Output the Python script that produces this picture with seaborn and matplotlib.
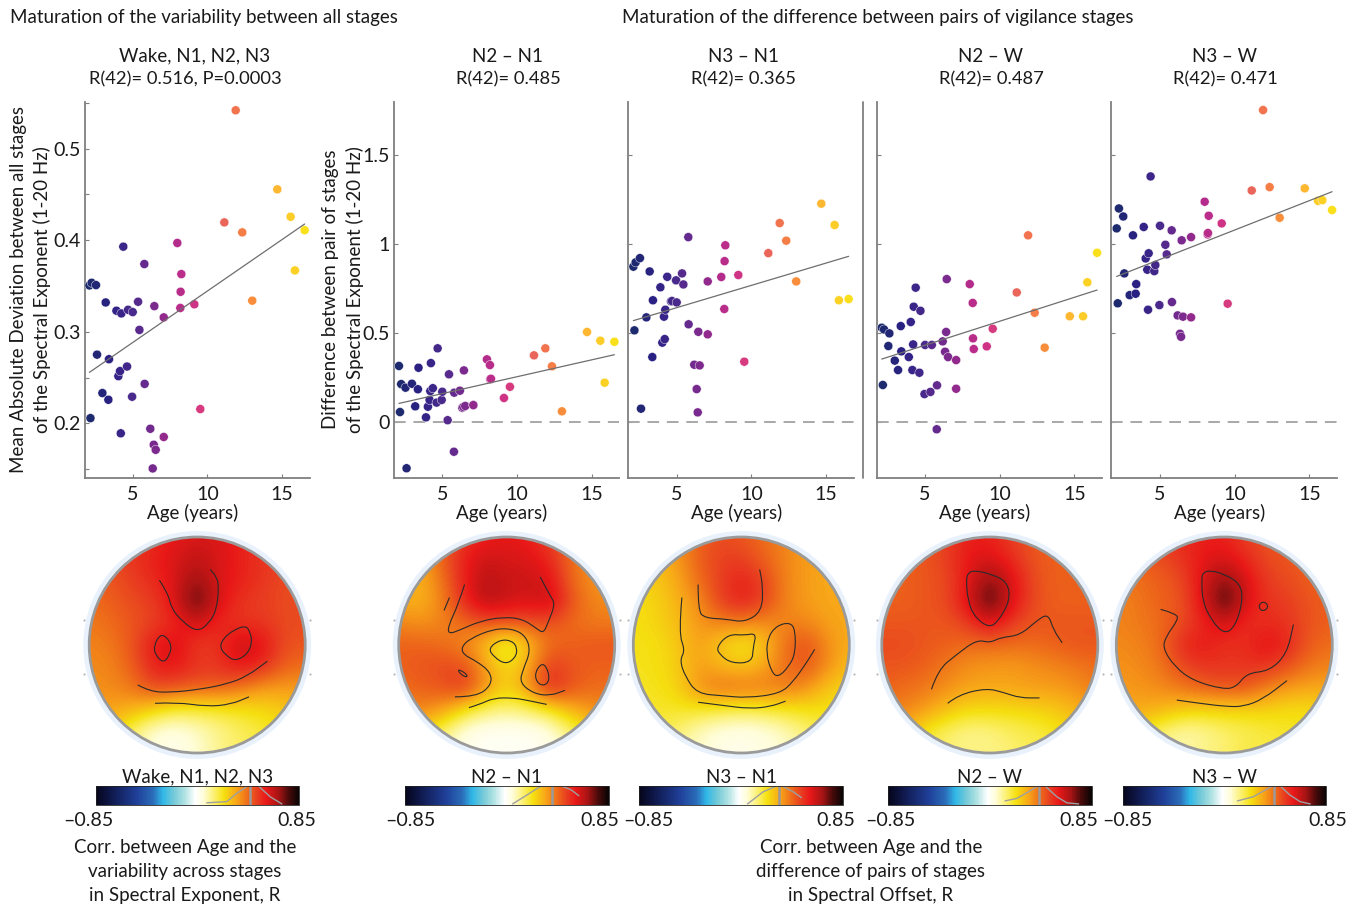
import numpy as np
import pandas as pd
import matplotlib
matplotlib.use('Agg')
import matplotlib.pyplot as plt
import seaborn as sns
from matplotlib.cm import ScalarMappable
from matplotlib.colors import LinearSegmentedColormap, Normalize
from matplotlib.patches import Circle, PathPatch
from matplotlib.path import Path

# ---- scatter data, same 44 subjects in every panel
age = [2.10, 2.17, 2.25, 2.54, 2.61, 2.97, 3.19, 3.37, 3.41, 3.91, 4.04, 4.15, 4.20, 4.24, 4.37,
       4.62, 4.69, 4.96, 5.00, 5.36, 5.45, 5.78, 5.80, 6.18, 6.34, 6.41, 6.45, 6.54, 7.08, 7.08,
       7.99, 8.19, 8.21, 8.26, 9.13, 9.53, 11.14, 11.90, 12.34, 13.01, 14.69, 15.58, 15.87, 16.52]
mad_all = [.3506, .2056, .3535, .351, .275, .233, .332, .2257, .27, .323, .2515, .257, .189, .32, .393,
           .262, .324, .229, .3215, .3328, .302, .374, .243, .194, .1506, .1765, .328, .171, .3157, .185,
           .397, .326, .3437, .363, .33, .2155, .4195, .542, .4086, .334, .4556, .4257, .367, .411]
n2_n1 = [.315, .056, .213, .193, -.26, .215, .088, .184, .305, .026, .086, .124, .174, .331, .19,
         .109, .414, .124, .17, .01, .268, -.167, .165, .176, .08, .085, .29, .09, .095, .095,
         .352, .32, .24, .243, .135, .198, .3745, .414, .313, .06, .506, .457, .221, .451]
n3_n1 = [.873, .515, .897, .921, .075, .588, .846, .365, .684, .757, .446, .592, .466, .631, .816,
         .678, .68, .796, .672, .835, .773, 1.039, .549, .322, .185, .054, .507, .318, .79, .4925,
         .815, .635, .904, .993, .826, .339, .949, 1.118, 1.019, .79, 1.227, 1.107, .684, .691]
n2_w = [.53, .208, .52, .427, .498, .345, .292, .539, .397, .365, .562, .292, .436, .648, .755,
        .277, .625, .157, .433, .169, .433, -.041, .206, .453, .395, .506, .803, .365, .348, .187,
        .775, .669, .47, .41, .425, .524, .728, 1.049, .614, .418, .594, .594, .785, .951]
n3_w = [1.088, .667, 1.2, 1.155, .835, .713, 1.049, .721, .775, 1.096, .919, .856, .631, .948, 1.38,
        .848, .882, .657, 1.103, .996, .942, 1.077, .674, .599, .496, .479, 1.021, .592, 1.039, .588,
        1.238, 1.054, 1.062, 1.159, 1.116, .665, 1.301, 1.753, 1.32, 1.148, 1.313, 1.243, 1.247, 1.191]

stage_names = ['Wake, N1, N2, N3', 'N2 – N1', 'N3 – N1', 'N2 – W', 'N3 – W']
r_labels = ['R(42)= 0.516, P=0.0003', 'R(42)= 0.485', 'R(42)= 0.365', 'R(42)= 0.487', 'R(42)= 0.471']

# ---- topographies, R on an 11x11 grid, rows y=1..-1, columns x=-1..1
topo_all = [
    [.48, .48, .50, .54, .58, .60, .60, .56, .52, .50, .48],
    [.46, .48, .52, .56, .60, .64, .60, .56, .52, .50, .48],
    [.44, .46, .50, .54, .60, .70, .60, .56, .52, .48, .48],
    [.42, .44, .48, .50, .60, .78, .60, .52, .50, .48, .48],
    [.40, .42, .46, .50, .54, .62, .54, .52, .52, .48, .48],
    [.38, .40, .46, .58, .62, .50, .52, .64, .60, .48, .46],
    [.37, .38, .44, .56, .58, .52, .52, .58, .54, .44, .42],
    [.36, .37, .40, .48, .46, .44, .44, .40, .34, .34, .34],
    [.34, .33, .30, .24, .18, .18, .19, .21, .23, .26, .28],
    [.30, .26, .14, .04, .02, .06, .11, .15, .18, .22, .24],
    [.26, .20, .10, .04, .02, .05, .12, .15, .18, .20, .22]]
topo_n2n1 = [
    [.30, .34, .42, .52, .56, .58, .56, .50, .42, .36, .32],
    [.30, .32, .44, .56, .62, .60, .60, .54, .42, .36, .32],
    [.30, .30, .40, .56, .66, .62, .62, .60, .42, .36, .34],
    [.32, .30, .38, .54, .66, .62, .60, .64, .46, .38, .36],
    [.38, .36, .38, .42, .46, .46, .46, .46, .42, .40, .40],
    [.44, .44, .42, .38, .28, .12, .28, .42, .44, .46, .46],
    [.44, .46, .48, .48, .34, .22, .32, .52, .46, .44, .44],
    [.42, .44, .46, .52, .36, .24, .36, .56, .46, .42, .42],
    [.38, .38, .34, .22, .14, .12, .14, .20, .30, .36, .38],
    [.30, .24, .14, .03, .00, .00, .00, .03, .14, .24, .30],
    [.24, .16, .08, .02, .00, .00, .00, .02, .08, .16, .24]]
topo_n3n1 = [
    [.28, .30, .36, .44, .48, .46, .42, .38, .34, .32, .30],
    [.26, .28, .34, .44, .50, .50, .44, .38, .34, .32, .30],
    [.24, .26, .32, .42, .50, .56, .50, .38, .34, .32, .32],
    [.22, .24, .30, .36, .50, .56, .50, .38, .34, .32, .32],
    [.22, .24, .28, .35, .38, .38, .36, .38, .38, .33, .32],
    [.21, .22, .26, .34, .26, .19, .26, .42, .48, .36, .31],
    [.21, .22, .25, .34, .30, .27, .32, .42, .46, .36, .28],
    [.20, .21, .24, .36, .42, .42, .40, .40, .36, .26, .24],
    [.18, .20, .20, .20, .18, .16, .18, .20, .21, .22, .20],
    [.16, .18, .14, .07, .03, .02, .03, .07, .14, .18, .18],
    [.12, .12, .10, .06, .03, .02, .04, .06, .10, .12, .14]]
topo_n2w = [
    [.46, .46, .46, .50, .56, .56, .50, .46, .44, .44, .44],
    [.44, .44, .46, .50, .58, .60, .54, .46, .44, .44, .44],
    [.44, .44, .46, .48, .58, .72, .60, .48, .44, .44, .44],
    [.44, .44, .46, .48, .60, .80, .60, .48, .44, .44, .44],
    [.46, .46, .46, .46, .50, .60, .50, .46, .46, .46, .46],
    [.48, .48, .46, .44, .42, .42, .42, .42, .44, .46, .46],
    [.46, .46, .44, .40, .36, .35, .34, .36, .38, .40, .42],
    [.44, .42, .40, .36, .33, .32, .33, .34, .34, .36, .40],
    [.40, .38, .34, .28, .23, .23, .23, .24, .26, .30, .34],
    [.34, .30, .20, .14, .11, .12, .15, .17, .20, .24, .28],
    [.28, .24, .18, .14, .12, .12, .14, .16, .18, .22, .24]]
topo_n3w = [
    [.44, .46, .50, .54, .56, .56, .50, .46, .44, .44, .44],
    [.42, .44, .48, .52, .58, .60, .54, .48, .46, .44, .44],
    [.40, .42, .44, .48, .60, .72, .60, .50, .48, .44, .44],
    [.38, .40, .44, .46, .60, .80, .60, .52, .50, .46, .44],
    [.38, .40, .42, .48, .54, .62, .52, .54, .52, .46, .44],
    [.37, .38, .42, .54, .58, .52, .54, .60, .54, .44, .42],
    [.36, .37, .40, .48, .52, .52, .52, .52, .46, .40, .38],
    [.34, .35, .37, .40, .44, .46, .46, .38, .34, .32, .32],
    [.33, .32, .30, .26, .24, .24, .24, .24, .22, .22, .26],
    [.28, .22, .14, .08, .10, .14, .16, .18, .20, .22, .22],
    [.20, .14, .10, .10, .12, .14, .18, .18, .18, .20, .20]]

# ---- significance contours, head coordinates
cont_all = [
    [(-.35, .60), (-.27, .48), (-.24, .34), (-.14, .22), (0, .12), (.11, .20), (.18, .33), (.20, .54), (.18, .63), (.12, .70)],
    [(-.34, .10), (-.40, 0), (-.39, -.09), (-.31, -.17), (-.25, -.08), (-.24, 0), (-.28, .07), (-.34, .10)],
    [(.45, .18), (.34, .14), (.24, .06), (.21, -.02), (.26, -.09), (.35, -.15), (.46, -.09), (.51, .02), (.49, .12), (.45, .18)],
    [(-.55, -.37), (-.44, -.43), (-.25, -.44), (.03, -.41), (.28, -.36), (.46, -.29), (.65, -.15)],
    [(-.39, -.54), (-.19, -.53), (.09, -.57), (.31, -.55), (.48, -.48)]]
cont_n2n1 = [
    [(-.39, .56), (-.45, .37), (-.54, .18), (-.54, .10), (-.43, .14), (-.25, .22), (-.03, .26), (.15, .24), (.28, .15), (.34, .11), (.38, .20), (.45, .38), (.40, .46), (.31, .63)],
    [(-.53, .44), (-.58, .32)],
    [(-.48, -.48), (-.28, -.48), (-.14, -.37), (-.15, -.25), (-.28, -.15), (-.40, -.09), (-.42, -.02), (-.34, .06), (-.12, .15), (.06, .15), (.18, .08), (.22, -.06), (.15, -.23), (.12, -.35), (.25, -.45), (.40, -.47), (.54, -.42)],
    [(-.06, .05), (-.17, -.03), (-.12, -.11), (-.01, -.18), (.08, -.12), (.10, -.03), (.05, .04), (-.06, .05)],
    [(-.46, -.22), (-.42, -.28), (-.36, -.30), (-.38, -.26), (-.46, -.22)],
    [(.32, -.17), (.26, -.26), (.28, -.35), (.35, -.38), (.40, -.32), (.37, -.20), (.32, -.17)],
    [(-.35, -.58), (-.25, -.55), (-.12, -.49), (.06, -.49), (.18, -.51), (.37, -.55)]]
cont_n3n1 = [
    [(-.40, .56), (-.40, .32), (-.34, .25), (-.14, .24), (.03, .21), (.19, .31), (.20, .54), (.17, .70)],
    [(-.55, .44), (-.58, .11), (-.52, -.05), (-.57, -.14), (-.52, -.29), (-.41, -.45), (-.17, -.47), (.05, -.49), (.36, -.45), (.48, -.34), (.60, -.17), (.68, -.04)],
    [(-.12, .10), (-.23, -.02), (-.20, -.09), (-.09, -.17), (.10, -.16), (.11, -.02), (.14, .11), (.03, .09), (-.12, .10)],
    [(.33, .18), (.25, .08), (.23, -.08), (.28, -.25), (.34, -.30), (.44, -.20), (.50, -.08), (.50, .14), (.45, .21), (.33, .18)],
    [(-.40, -.53), (-.17, -.56), (.08, -.59), (.27, -.57), (.41, -.52)]]
cont_n2w = [
    [(-.20, .67), (-.22, .60), (-.20, .40), (-.14, .26), (-.01, .16), (.08, .22), (.19, .42), (.16, .59), (0, .66), (-.14, .69), (-.20, .67)],
    [(-.54, -.41), (-.48, -.23), (-.31, -.09), (-.12, .05), (0, .02), (.10, .07), (.28, .09), (.44, .23), (.54, .29), (.59, .14), (.67, .02)],
    [(-.39, -.54), (-.29, -.46), (-.03, -.40), (.13, -.44), (.28, -.49), (.46, -.49)]]
cont_n3w = [
    [(-.20, .67), (-.21, .60), (-.20, .40), (-.12, .23), (0, .10), (.10, .17), (.17, .40), (.15, .57), (-.01, .66), (-.13, .69), (-.20, .67)],
    [(.33, .39), (.32, .34), (.36, .31), (.41, .35), (.38, .40), (.33, .39)],
    [(-.59, .33), (-.44, .29), (-.43, .23), (-.54, .08), (-.57, -.03), (-.46, -.20), (-.29, -.33), (-.01, -.41), (.11, -.39), (.21, -.26), (.42, -.24), (.58, -.08), (.64, .19)],
    [(-.44, -.51), (-.23, -.54), (.02, -.57), (.18, -.57), (.36, -.50), (.58, -.33)]]

# ---- grey curves and threshold on each colour bar (R, height in bar)
bar_thresh = [.44, .382, .316, .41, .413]
bar_left = [
    [(.078, .10), (.245, .16), (.329, .60), (.412, .95)],
    [(.049, .04), (.166, .50), (.277, .95), (.36, .98)],
    [(.054, .04), (.185, .68), (.296, .98)],
    [(.128, .20), (.226, .33), (.324, .68), (.399, .98)],
    [(.109, .20), (.242, .42), (.34, .77), (.401, .98)]]
bar_right = [
    [(.51, .98), (.607, .42), (.705, .04)],
    [(.458, .98), (.541, .77), (.602, .47)],
    [(.352, .95), (.435, .68), (.505, .37)],
    [(.463, .98), (.56, .42), (.644, .10), (.742, .04)],
    [(.471, .95), (.549, .50), (.632, .16), (.716, .04)]]

W, H = 1359, 906
GREY = '#7f7f7f'
FS = 13.5

sns.set_style('white')
plt.rcParams['font.family'] = ['Lato', 'DejaVu Sans']
plt.rcParams['text.color'] = '#1a1a1a'
plt.rcParams['xtick.color'] = '#1a1a1a'
plt.rcParams['ytick.color'] = '#1a1a1a'
plt.rcParams['axes.labelcolor'] = '#1a1a1a'

age_cmap = LinearSegmentedColormap.from_list('age', ['#1d2a6d', '#2b2085', '#4a2a8c', '#7a2a8e', '#b02a8c', '#d43584',
                                                     '#e85f60', '#f47a4a', '#fb9e30', '#fec030', '#f9e01a'])
topo_cmap = LinearSegmentedColormap.from_list('topo', [
    (0, '#05051a'), (.08, '#101a50'), (.20, '#1f3f98'), (.28, '#2a6cb8'), (.33, '#30b8e8'), (.38, '#70c8d8'),
    (.43, '#a8dfe0'), (.49, '#ffffff'), (.53, '#fffdd8'), (.59, '#fbee60'), (.63, '#f5e010'), (.69, '#f8a818'),
    (.75, '#ee6a1a'), (.80, '#e83a20'), (.84, '#e81818'), (.90, '#a81414'), (.95, '#4a0a0a'), (1, '#0a0404')])
topo_norm = Normalize(-.85, .85)


def px_axes(fig, x0, y0, x1, y1):
    return fig.add_axes([x0 / W, 1 - y1 / H, (x1 - x0) / W, (y1 - y0) / H])


def draw_scatter(fig, box, values, ylim, yticks, ylabels, name, r_text, name_x, r_x, ylabel=None, ylabel_x=None, zero=True):
    ax = px_axes(fig, box[0], 101.7, box[1], 477.7)
    df = pd.DataFrame({'age': age, 'y': values})
    if zero:
        ax.axhline(0, color='#a8a8a8', lw=1.4, dashes=(6, 4), zorder=1)
    sns.scatterplot(data=df, x='age', y='y', hue='age', palette=age_cmap, hue_norm=(2.1, 16.52), s=42,
                    edgecolor='white', linewidth=.3, legend=False, ax=ax, zorder=3)
    sns.regplot(data=df, x='age', y='y', scatter=False, ci=None, color='#6e6e6e',
                line_kws={'lw': .9, 'zorder': 4}, ax=ax)
    ax.set_xlim(box[2], box[3])
    ax.set_ylim(*ylim)
    ax.set_xticks([5, 10, 15])
    ax.set_yticks(yticks)
    ax.set_yticklabels(ylabels)
    ax.tick_params(direction='in', length=3, width=.8, color=GREY, labelsize=FS + .6, bottom=True, left=True)
    ax.tick_params(axis='x', pad=6)
    ax.tick_params(axis='y', pad=3)
    sns.despine(ax=ax)
    for s in ['left', 'bottom']:
        ax.spines[s].set_color(GREY)
        ax.spines[s].set_linewidth(1.3)
    ax.set_xlabel('Age (years)', fontsize=FS, va='center')
    ax.xaxis.set_label_coords(.478, -.094)
    ax.set_ylabel(ylabel if ylabel else '', fontsize=FS, va='center', linespacing=1.45)
    if ylabel_x is not None:
        ax.yaxis.set_label_coords((ylabel_x - box[0]) / (box[1] - box[0]), .5)
    # the two title lines are not centred on one another in the figure
    fig.text(name_x / W, 1 - 56 / H, name, fontsize=FS, ha='center', va='center')
    fig.text(r_x / W, 1 - 79 / H, r_text, fontsize=FS - .3, ha='center', va='center')
    return ax


def smooth_path(pts):
    # quadratic path through the midpoints so the contour does not look angular
    pts = np.asarray(pts, dtype=float)
    closed = len(pts) > 3 and np.allclose(pts[0], pts[-1])
    if closed:
        pts = pts[:-1]
        mids = (pts + np.roll(pts, -1, axis=0)) / 2
        verts = [mids[-1]]
        codes = [Path.MOVETO]
        for p, m in zip(pts, mids):
            verts += [p, m]
            codes += [Path.CURVE3, Path.CURVE3]
        return Path(verts, codes)
    verts = [pts[0]]
    codes = [Path.MOVETO]
    for i in range(1, len(pts) - 1):
        verts += [pts[i], (pts[i] + pts[i + 1]) / 2]
        codes += [Path.CURVE3, Path.CURVE3]
    verts.append(pts[-1])
    codes.append(Path.LINETO)
    return Path(verts, codes)


def draw_topo(fig, cx, grid, contours):
    r = 108.0
    ax = px_axes(fig, cx - 1.1 * r, 645 - 1.1 * r, cx + 1.1 * r, 645 + 1.1 * r)
    ax.axis('off')
    ax.add_patch(Circle((0, 0), 1.055, fc='#e9f2fc', ec='none', zorder=0))
    im = ax.imshow(grid, cmap=topo_cmap, norm=topo_norm, extent=(-1.1, 1.1, -1.1, 1.1), interpolation='bicubic',
                   zorder=1)
    ax.set_xlim(-1.1, 1.1)
    ax.set_ylim(-1.1, 1.1)
    im.set_clip_path(Circle((0, 0), 1, transform=ax.transData))
    ax.add_patch(Circle((0, 0), 1, fc='none', ec='#9a9a9a', lw=2, zorder=3))
    for c in contours:
        ax.add_patch(PathPatch(smooth_path(c), fc='none', ec='#2a2a2a', lw=.8, zorder=2))
    ax.plot([-1.045, -1.045, 1.045, 1.045], [.23, -.27, .23, -.27], ls='none', marker='.', ms=1, color='#aaaaaa')


def draw_bar(fig, x0, name, thresh, left, right, lab_l, lab_r):
    cax = px_axes(fig, x0, 785.7, x0 + 203.5, 804.7)
    sm = ScalarMappable(norm=topo_norm, cmap=topo_cmap)
    cb = fig.colorbar(sm, cax=cax, orientation='horizontal')
    cb.set_ticks([])
    cb.outline.set_linewidth(.6)
    cb.outline.set_edgecolor('#222222')
    cax.axvline(thresh, color='#9a9a9a', lw=1.8)
    for c in (left, right):
        xs, ys = zip(*c)
        cax.plot(xs, ys, color='#a0a0a0', lw=1.0)
    cax.set_title(name, fontsize=FS, pad=2)
    fig.text(lab_l / W, 1 - 820 / H, '–0.85', fontsize=FS + .6, ha='center', va='center')
    fig.text(lab_r / W, 1 - 820 / H, '0.85', fontsize=FS + .6, ha='center', va='center')


fig = plt.figure(figsize=(W / 100, H / 100), dpi=100)

y_half = [0, .5, 1, 1.5]
y_half_lab = ['0', '0.5', '1', '1.5']
yl_diff = (-.313, 1.8)
ax1 = draw_scatter(fig, (84.5, 309.7, 1.77, 16.86), mad_all, (.1405, .5514),
                   [.15, .2, .25, .3, .35, .4, .45, .5, .55], ['', '0.2', '', '0.3', '', '0.4', '', '0.5', ''],
                   stage_names[0], r_labels[0], 194.5, 185,
                   'Mean Absolute Deviation between all stages\nof the Spectral Exponent (1-20 Hz)', 30.5, zero=False)
ax2 = draw_scatter(fig, (393.7, 619, 1.75, 16.83), n2_n1, yl_diff, y_half, y_half_lab,
                   stage_names[1], r_labels[1], 508, 508,
                   'Difference between pair of stages\nof the Spectral Exponent (1-20 Hz)', 343)
ax3 = draw_scatter(fig, (628.3, 854, 1.76, 16.88), n3_n1, yl_diff, y_half, ['', '', '', ''],
                   stage_names[2], r_labels[2], 743, 743)
ax3.axvline(17.48, color=GREY, lw=1.3, clip_on=False)
ax4 = draw_scatter(fig, (877, 1102, 1.78, 16.85), n2_w, yl_diff, y_half, ['', '', '', ''],
                   stage_names[3], r_labels[3], 991, 991)
ax5 = draw_scatter(fig, (1111.3, 1337, 1.74, 16.85), n3_w, yl_diff, y_half, ['', '', '', ''],
                   stage_names[4], r_labels[4], 1225, 1225)

topo_grids = [topo_all, topo_n2n1, topo_n3n1, topo_n2w, topo_n3w]
topo_conts = [cont_all, cont_n2n1, cont_n3n1, cont_n2w, cont_n3w]
for cx, g, c in zip([197.2, 506.7, 741.3, 989.8, 1224.3], topo_grids, topo_conts):
    draw_topo(fig, cx, g, c)

bar_x = [95.7, 405, 639.3, 888, 1122.7]
bar_lab_l = [88, 410, 648, 890, 1127]
bar_lab_r = [297, 600, 836, 1079, 1328]
for i, x0 in enumerate(bar_x):
    draw_bar(fig, x0, stage_names[i], bar_thresh[i], bar_left[i], bar_right[i], bar_lab_l[i], bar_lab_r[i])

fig.text(10 / W, 1 - 18 / H, 'Maturation of the variability between all stages', fontsize=FS, va='center')
fig.text(622 / W, 1 - 18 / H, 'Maturation of the difference between pairs of vigilance stages', fontsize=FS, va='center')
fig.text(185 / W, 1 - 872 / H, 'Corr. between Age and the\nvariability across stages\nin Spectral Exponent, R',
         fontsize=FS, ha='center', va='center', linespacing=1.5)
fig.text(871 / W, 1 - 872 / H, 'Corr. between Age and the\ndifference of pairs of stages\nin Spectral Offset, R',
         fontsize=FS, ha='center', va='center', linespacing=1.5)

fig.savefig('out.png', dpi=100)
